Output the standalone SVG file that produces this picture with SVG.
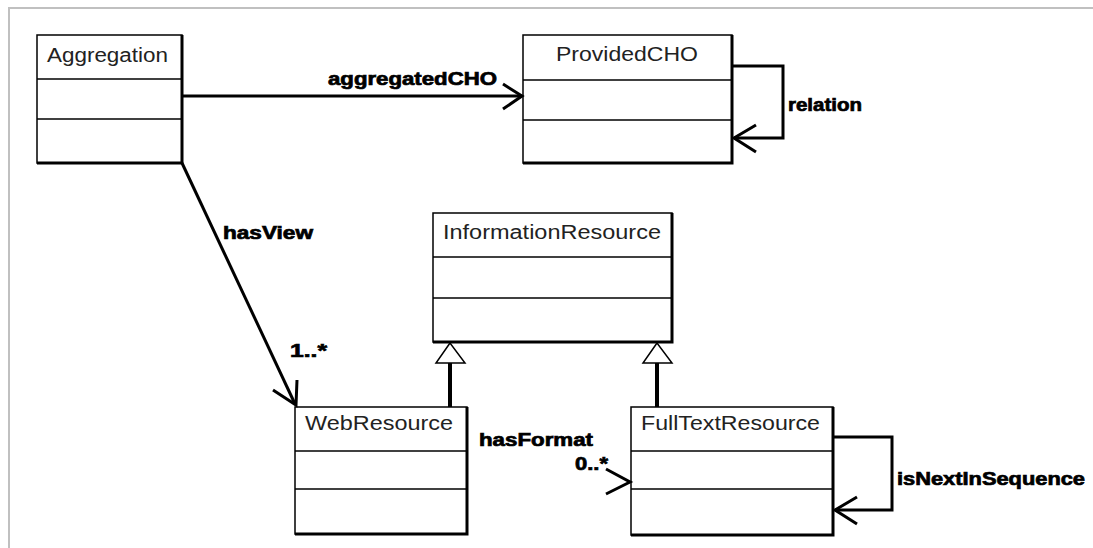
<svg xmlns="http://www.w3.org/2000/svg" width="1093" height="548" viewBox="0 0 1093 548">
<style>
.box{fill:#fff;stroke:#000;stroke-width:1.5}
.div{stroke:#000;stroke-width:1.5}
.shadow{fill:none;stroke:#000;stroke-width:3}
.name{font-family:"Liberation Sans",Arial,sans-serif;font-size:20px;fill:#222}
.lbl{font-family:"Liberation Sans",Arial,sans-serif;font-size:18px;font-weight:bold;fill:#000;stroke:#000;stroke-width:0.7}
.con{fill:none;stroke:#000;stroke-width:3}
.tri{fill:#fff;stroke:#000;stroke-width:1.5}
</style>
<rect x="0" y="0" width="1093" height="548" fill="#fff"/>
<polyline points="9,548 9,8 1093,8" fill="none" stroke="#c0c0c0" stroke-width="2"/>

<g id="Aggregation">
<rect class="box" x="37" y="35" width="145" height="128"/>
<line class="div" x1="37" y1="79" x2="182" y2="79"/>
<line class="div" x1="37" y1="119" x2="182" y2="119"/>
<polyline class="shadow" points="182,35 182,163 37,163"/>
<text class="name" x="47" y="62" textLength="121" lengthAdjust="spacingAndGlyphs">Aggregation</text>
</g>

<g id="ProvidedCHO">
<rect class="box" x="523" y="35" width="209" height="128"/>
<line class="div" x1="523" y1="80" x2="732" y2="80"/>
<line class="div" x1="523" y1="120" x2="732" y2="120"/>
<polyline class="shadow" points="732,35 732,163 523,163"/>
<text class="name" x="556" y="61" textLength="142" lengthAdjust="spacingAndGlyphs">ProvidedCHO</text>
</g>

<g id="InformationResource">
<rect class="box" x="433" y="213" width="239" height="129"/>
<line class="div" x1="433" y1="257" x2="672" y2="257"/>
<line class="div" x1="433" y1="298" x2="672" y2="298"/>
<polyline class="shadow" points="672,213 672,342 433,342"/>
<text class="name" x="443" y="239" textLength="218" lengthAdjust="spacingAndGlyphs">InformationResource</text>
</g>

<g id="WebResource">
<rect class="box" x="295" y="407" width="172" height="127"/>
<line class="div" x1="295" y1="451" x2="467" y2="451"/>
<line class="div" x1="295" y1="489" x2="467" y2="489"/>
<polyline class="shadow" points="467,407 467,534 295,534"/>
<text class="name" x="305" y="430" textLength="148" lengthAdjust="spacingAndGlyphs">WebResource</text>
</g>

<g id="FullTextResource">
<rect class="box" x="631" y="407" width="202" height="128"/>
<line class="div" x1="631" y1="451" x2="833" y2="451"/>
<line class="div" x1="631" y1="489" x2="833" y2="489"/>
<polyline class="shadow" points="833,407 833,535 631,535"/>
<text class="name" x="641" y="430" textLength="179" lengthAdjust="spacingAndGlyphs">FullTextResource</text>
</g>

<g id="connectors">
<line class="con" x1="183" y1="96" x2="522" y2="96"/>
<polyline class="con" points="503,84 522,96 503,109"/>
<text class="lbl" x="328" y="85" textLength="169" lengthAdjust="spacingAndGlyphs">aggregatedCHO</text>
<polyline class="con" points="733,66 783,66 783,138 734,138"/>
<polyline class="con" points="756,125 734,138 756,152"/>
<text class="lbl" x="788" y="111" textLength="74" lengthAdjust="spacingAndGlyphs">relation</text>
<line class="con" x1="182" y1="163" x2="295" y2="404"/>
<polyline class="con" points="297,380 296,405 273,390"/>
<text class="lbl" x="223" y="239" textLength="90" lengthAdjust="spacingAndGlyphs">hasView</text>
<text class="lbl" x="290" y="357" textLength="37" lengthAdjust="spacingAndGlyphs">1..*</text>
<line x1="450" y1="362" x2="450" y2="407" stroke="#000" stroke-width="4"/>
<polygon class="tri" points="450,343 436,363 465,363"/>
<line x1="657" y1="362" x2="657" y2="407" stroke="#000" stroke-width="4"/>
<polygon class="tri" points="657,343 643,363 672,363"/>
<polyline class="con" points="606,469 630,482 606,494"/>
<text class="lbl" x="479" y="446" textLength="114" lengthAdjust="spacingAndGlyphs">hasFormat</text>
<text class="lbl" x="575" y="470" textLength="33" lengthAdjust="spacingAndGlyphs">0..*</text>
<polyline class="con" points="834,437 892,437 892,510 835,510"/>
<polyline class="con" points="857,497 835,510 857,524"/>
<text class="lbl" x="897" y="485" textLength="188" lengthAdjust="spacingAndGlyphs">isNextInSequence</text>
</g>
</svg>
